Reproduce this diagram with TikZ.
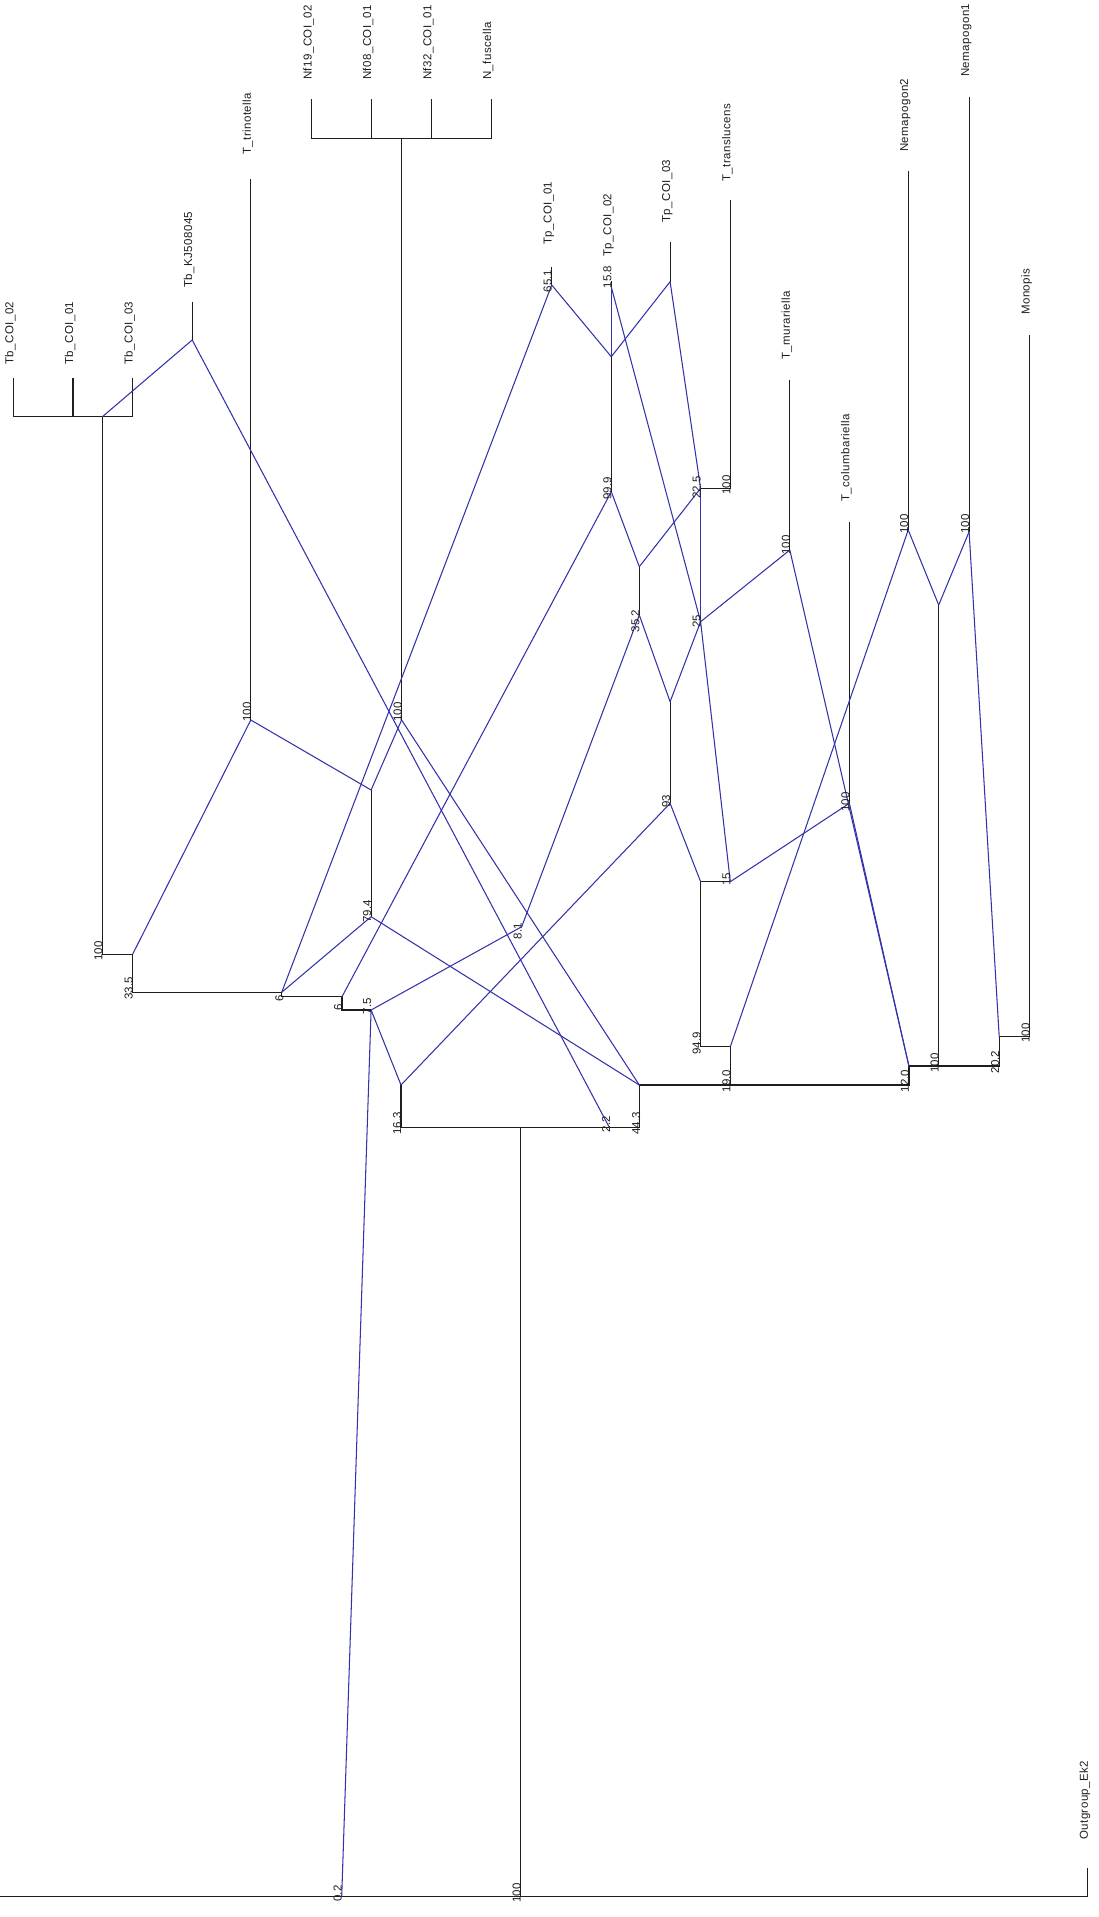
\documentclass[tikz,border=0pt]{standalone}
\usepackage{fontspec}
\newfontfamily\leaffont[LetterSpace=4]{Liberation Sans}
\newfontfamily\numfont{Liberation Sans}
\definecolor{netblue}{RGB}{50,50,170}
\definecolor{treeblack}{RGB}{30,30,30}
\begin{document}
\begin{tikzpicture}[x=1pt,y=-1pt,
  tree/.style={draw=treeblack,line width=1.2pt},
  net/.style={draw=netblue,line width=1.05pt},
  leaflabel/.style={rotate=90,anchor=base west,inner sep=0pt,xshift=5pt,
    font=\leaffont\fontsize{11.5}{12}\selectfont,text=treeblack},
  numlabel/.style={rotate=90,anchor=base,inner sep=0pt,xshift=4pt,
    font=\numfont\fontsize{11.5}{12}\selectfont,text=treeblack}]
\fill[white] (0,0) rectangle (1099,1917);
\useasboundingbox (0,0) rectangle (1099,1917);
% ---------- coordinates ----------
\coordinate (tb2top) at (13.3,378.3);  \coordinate (tb2) at (13.3,416.7);
\coordinate (tb1top) at (73,378.3);    \coordinate (tb1) at (73,416.7);
\coordinate (tb3top) at (132.6,378.3); \coordinate (tb3) at (132.6,416.7);
\coordinate (tbJ) at (102.4,416.7);
\coordinate (kjTop) at (192.2,301.7);  \coordinate (kj) at (192.2,340);
\coordinate (tbC) at (102.4,954.3);
\coordinate (n335top) at (132.6,954.3); \coordinate (n335) at (132.6,992.3);
\coordinate (trTop) at (250.8,179.3);  \coordinate (tr) at (250.8,720);
\coordinate (nf1top) at (311.5,99.3);  \coordinate (nf1) at (311.5,138.3);
\coordinate (nf2top) at (371.1,99.3);  \coordinate (nf2) at (371.1,138.3);
\coordinate (nf3top) at (431.4,99.3);  \coordinate (nf3) at (431.4,138.3);
\coordinate (nf4top) at (491.1,99.3);  \coordinate (nf4) at (491.1,138.3);
\coordinate (nfJ) at (401.6,138.3);    \coordinate (nf) at (401.6,720);
\coordinate (n79top) at (371.1,790);   \coordinate (n794) at (371.1,916.7);
\coordinate (n6a) at (281.7,992.3);    \coordinate (n6a2) at (281.7,996.7);
\coordinate (n6b) at (342,996.7);      \coordinate (n6b2) at (342,1010);
\coordinate (n75) at (371.1,1010);
\coordinate (n163top) at (401,1085);   \coordinate (n163) at (401,1127.7);
\coordinate (n22) at (609.5,1127.7);
\coordinate (n443) at (639.3,1127.7);  \coordinate (n443top) at (639.3,1085);
\coordinate (rootJ) at (520.7,1127.7);
\coordinate (root02) at (341.7,1896.7); \coordinate (root100) at (520.7,1896.7);
\coordinate (rootL) at (0,1896.7);     \coordinate (rootR) at (1087.8,1896.7);
\coordinate (ogTop) at (1087.8,1868);
\coordinate (tp1top) at (551.7,266.7); \coordinate (tp1) at (551.7,285);
\coordinate (tp2top) at (611.3,281);   \coordinate (tp2) at (611.3,287);
\coordinate (tp2low) at (611.3,356.7); \coordinate (n999) at (611.3,491.7);
\coordinate (tp3top) at (670.1,241.7); \coordinate (tp3) at (670.1,281.7);
\coordinate (nA) at (639.3,566.7);     \coordinate (n352) at (639.3,615);
\coordinate (trlTop) at (730.3,200);   \coordinate (trl) at (730.3,488.3);
\coordinate (n225) at (700.6,488.3);   \coordinate (n25) at (700.6,621.7);
\coordinate (nB) at (670.1,701.7);     \coordinate (n93) at (670.1,803.3);
\coordinate (nC) at (700.6,881.7);     \coordinate (n15) at (730.3,881.7);
\coordinate (n949) at (700.6,1046.7);  \coordinate (n190top) at (730.3,1046.7);
\coordinate (n190) at (730.3,1085);
\coordinate (n120) at (908.9,1085);    \coordinate (n120top) at (908.9,1066);
\coordinate (n100n) at (938.7,1066);   \coordinate (nemJ) at (938.7,605);
\coordinate (n202) at (999.2,1066);    \coordinate (n202top) at (999.2,1036.7);
\coordinate (mon) at (1029.7,1036.7);  \coordinate (monTop) at (1029.7,335);
\coordinate (muTop) at (789.8,380);    \coordinate (mu) at (789.8,550);
\coordinate (coTop) at (849.4,521.7);  \coordinate (co) at (849.4,803.3);
\coordinate (ne2Top) at (908.2,170.7); \coordinate (ne2) at (908.2,530);
\coordinate (ne1Top) at (969.1,96.7);  \coordinate (ne1) at (969.1,531.7);
\coordinate (n81) at (521.7,926.7);
% ---------- tree (black) ----------
\draw[tree] (tb2top) -- (tb2) -- (tb3) -- (tb3top);
\draw[tree] (tb1top) -- (tb1);
\draw[tree] (tbJ) -- (tbC) -- (n335top) -- (n335) -- (n6a) -- (n6a2) -- (n6b) -- (n6b2) -- (n75);
\draw[tree] (kjTop) -- (kj);
\draw[tree] (trTop) -- (tr);
\draw[tree] (nf1top) -- (nf1) -- (nf4) -- (nf4top);
\draw[tree] (nf2top) -- (nf2);
\draw[tree] (nf3top) -- (nf3);
\draw[tree] (nfJ) -- (nf);
\draw[tree] (n79top) -- (n794);
\draw[tree] (n163top) -- (n163) -- (n443) -- (n443top) -- (n120) -- (n120top) -- (n202) -- (n202top) -- (mon) -- (monTop);
\draw[tree] (rootJ) -- (root100);
\draw[tree] (rootL) -- (rootR) -- (ogTop);
\draw[tree] (tp1top) -- (tp1);
\draw[tree] (tp2top) -- (tp2);
\draw[tree] (tp2low) -- (n999);
\draw[tree] (tp3top) -- (tp3);
\draw[tree] (nA) -- (n352);
\draw[tree] (trlTop) -- (trl) -- (n225);
\draw[tree] (nB) -- (n93);
\draw[tree] (n15) -- (nC) -- (n949) -- (n190top) -- (n190);
\draw[tree] (muTop) -- (mu);
\draw[tree] (coTop) -- (co);
\draw[tree] (ne2Top) -- (ne2);
\draw[tree] (ne1Top) -- (ne1);
\draw[tree] (nemJ) -- (n100n);
% ---------- network (blue) ----------
\draw[net] (tbJ) -- (kj);
\draw[net] (kj) -- (n22);
\draw[net] (n335top) -- (tr);
\draw[net] (tr) -- (n79top);
\draw[net] (n79top) -- (nf);
\draw[net] (nf) -- (n443top);
\draw[net] (tp1) -- (n6a);
\draw[net] (n794) -- (n6a);
\draw[net] (n794) -- (n443top);
\draw[net] (n999) -- (n6b);
\draw[net] (n81) -- (n75);
\draw[net] (n352) -- (n81);
\draw[net] (n75) -- (n163top);
\draw[net] (n163top) -- (n93);
\draw[net] (n75) -- (root02);
\draw[net] (tp1) -- (tp2low);
\draw[net] (tp2) -- (tp2low);
\draw[net] (tp3) -- (tp2low);
\draw[net] (tp2) -- (n25);
\draw[net] (tp3) -- (n225);
\draw[net] (n999) -- (nA);
\draw[net] (nA) -- (n225);
\draw[net] (n225) -- (n25);
\draw[net] (n25) -- (mu);
\draw[net] (n25) -- (nB);
\draw[net] (n352) -- (nB);
\draw[net] (n25) -- (n15);
\draw[net] (n93) -- (nC);
\draw[net] (co) -- (n15);
\draw[net] (mu) -- (n120top);
\draw[net] (co) -- (n120top);
\draw[net] (n190top) -- (ne2);
\draw[net] (ne2) -- (nemJ);
\draw[net] (nemJ) -- (ne1);
\draw[net] (ne1) -- (n202top);
% ---------- leaf labels ----------
\node[leaflabel] (Ltb2) at (13.3,370) {Tb\_COI\_02};
\node[leaflabel] (Ltb1) at (73,370) {Tb\_COI\_01};
\node[leaflabel] (Ltb3) at (132.6,370) {Tb\_COI\_03};
\node[leaflabel] (Lkj) at (192.2,293) {Tb\_KJ508045};
\node[leaflabel] (Ltr) at (250.8,160) {T\_trinotella};
\node[leaflabel] (Lnf1) at (311.5,85) {Nf19\_COI\_02};
\node[leaflabel] (Lnf2) at (371.1,85) {Nf08\_COI\_01};
\node[leaflabel] (Lnf3) at (431.4,85) {Nf32\_COI\_01};
\node[leaflabel] (Lnf4) at (491.1,85) {N\_fuscella};
\node[leaflabel] (Ltp1) at (551.7,250) {Tp\_COI\_01};
\node[leaflabel] (Ltp2) at (611.3,262) {Tp\_COI\_02};
\node[leaflabel] (Ltp3) at (670.1,228) {Tp\_COI\_03};
\node[leaflabel] (Ltrl) at (730.3,187) {T\_translucens};
\node[leaflabel] (Lmu) at (789.8,365) {T\_murariella};
\node[leaflabel] (Lco) at (849.4,507) {T\_columbariella};
\node[leaflabel] (Lne2) at (908.2,157) {Nemapogon2};
\node[leaflabel] (Lne1) at (969.1,82) {Nemapogon1};
\node[leaflabel] (Lmon) at (1029.7,320) {Monopis};
\node[leaflabel] (Log) at (1087.8,1845) {Outgroup\_Ek2};
% ---------- support values ----------
\node[numlabel] (v1) at (102.4,955) {100};
\node[numlabel] (v2) at (132.6,992.5) {33.5};
\node[numlabel] (v3) at (283.4,1002.5) {6};
\node[numlabel] (v4) at (342,1011.5) {6};
\node[numlabel] (v5) at (371.1,1010) {7.5};
\node[numlabel] (v6) at (371.1,915.5) {79.4};
\node[numlabel] (v7) at (250.8,716) {100};
\node[numlabel] (v8) at (401.6,716) {100};
\node[numlabel] (v9) at (521.7,935) {8.1};
\node[numlabel] (v10) at (401,1127.5) {16.3};
\node[numlabel] (v11) at (610,1128) {2.2};
\node[numlabel] (v12) at (640,1127.5) {44.3};
\node[numlabel] (v13) at (730.3,1085) {19.0};
\node[numlabel] (v14) at (908.9,1085) {12.0};
\node[numlabel] (v15) at (938.7,1067) {100};
\node[numlabel] (v16) at (999.2,1066) {20.2};
\node[numlabel] (v17) at (1029.7,1037) {100};
\node[numlabel] (v18) at (700.6,1047.5) {94.9};
\node[numlabel] (v19) at (730.3,883) {15};
\node[numlabel] (v20) at (670.1,805.5) {93};
\node[numlabel] (v21) at (849.4,806) {100};
\node[numlabel] (v22) at (700.6,625.5) {25};
\node[numlabel] (v23) at (639.3,625) {35.2};
\node[numlabel] (v24) at (611.3,492.5) {99.9};
\node[numlabel] (v25) at (700.6,491.7) {22.5};
\node[numlabel] (v26) at (730.3,489) {100};
\node[numlabel] (v27) at (789.8,549) {100};
\node[numlabel] (v28) at (908.2,528) {100};
\node[numlabel] (v29) at (969.1,528) {100};
\node[numlabel] (v30) at (551.7,285) {65.1};
\node[numlabel] (v31) at (611.3,281) {15.8};
\node[numlabel] (v32) at (341.7,1897.5) {0.2};
\node[numlabel] (v33) at (520.7,1897) {100};
\end{tikzpicture}
\end{document}
